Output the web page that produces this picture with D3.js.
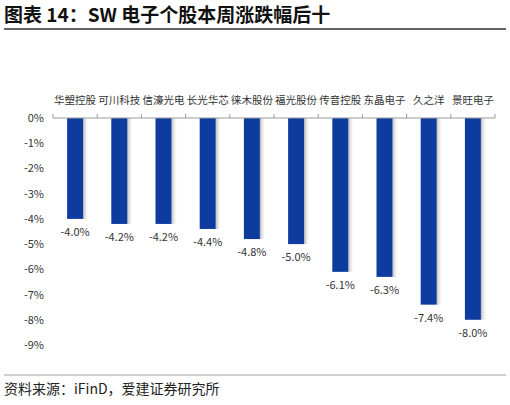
<!DOCTYPE html>
<html><head><meta charset="utf-8">
<script src="https://cdn.jsdelivr.net/npm/d3@7"></script>
<style>body{margin:0;background:#fff;font-family:"Noto Sans CJK SC","Noto Sans",sans-serif}</style>
</head><body><svg id="chart" width="510" height="405"></svg>
<script>
var names = ['华塑控股','可川科技','信濠光电','长光华芯','徕木股份','福光股份','传音控股','东晶电子','久之洋','景旺电子'];
var values = [-4.0,-4.2,-4.2,-4.4,-4.8,-5.0,-6.1,-6.3,-7.4,-8.0];
var yTicks = [0,-1,-2,-3,-4,-5,-6,-7,-8,-9];

var svg = d3.select('#chart');
var font = '"Noto Sans CJK SC",sans-serif';

svg.append('text').attr('x',4).attr('y',22)
	.attr('font-size',19).attr('font-weight','bold').attr('fill','#111').attr('font-family',font)
	.text('图表 14：SW 电子个股本周涨跌幅后十');
svg.append('line').attr('x1',4).attr('x2',506).attr('y1',29).attr('y2',29)
	.attr('stroke','#333').attr('stroke-width',1.5);

var x = d3.scaleBand().domain(names).range([53,495]);
var y = d3.scaleLinear().domain([0,-9]).range([118,345]);

var defs = svg.append('defs');
var g = defs.append('linearGradient').attr('id','shadow');
g.append('stop').attr('offset','0%').attr('stop-color','#888').attr('stop-opacity',0.6);
g.append('stop').attr('offset','100%').attr('stop-color','#fff').attr('stop-opacity',0);

var bw = 16;
svg.selectAll('rect.sh').data(values).enter().append('rect')
	.attr('x',function(d,i){return x(names[i])+x.bandwidth()/2+bw/2})
	.attr('y',y(0)).attr('width',6)
	.attr('height',function(d){return y(d)-y(0)})
	.attr('fill','url(#shadow)');
svg.selectAll('rect.bar').data(values).enter().append('rect')
	.attr('x',function(d,i){return x(names[i])+x.bandwidth()/2-bw/2})
	.attr('y',y(0)).attr('width',bw)
	.attr('height',function(d){return y(d)-y(0)})
	.attr('fill','#0d3b9e');

// y axis labels
svg.selectAll('text.yt').data(yTicks).enter().append('text')
	.attr('x',44).attr('y',function(d){return y(d)+4})
	.attr('text-anchor','end').attr('font-size',11).attr('fill','#333').attr('font-family',font)
	.text(function(d){return d+'%'});

// x axis line with ticks
svg.append('line').attr('x1',53).attr('x2',495).attr('y1',y(0)).attr('y2',y(0)).attr('stroke','#999');
svg.selectAll('line.xt').data(d3.range(names.length+1)).enter().append('line')
	.attr('x1',function(d){return 53+d*x.step()}).attr('x2',function(d){return 53+d*x.step()})
	.attr('y1',y(0)-4).attr('y2',y(0)).attr('stroke','#999');

svg.selectAll('text.cat').data(names).enter().append('text')
	.attr('x',function(d){return x(d)+x.bandwidth()/2}).attr('y',104)
	.attr('text-anchor','middle').attr('font-size',10.5).attr('fill','#333').attr('font-family',font)
	.text(function(d){return d});

svg.selectAll('text.val').data(values).enter().append('text')
	.attr('x',function(d,i){return x(names[i])+x.bandwidth()/2}).attr('y',function(d){return y(d)+17})
	.attr('text-anchor','middle').attr('font-size',11).attr('fill','#333').attr('font-family',font)
	.text(function(d){return d.toFixed(1)+'%'});

svg.append('line').attr('x1',4).attr('x2',506).attr('y1',375).attr('y2',375)
	.attr('stroke','#888').attr('stroke-width',0.8);
svg.append('text').attr('x',4).attr('y',394)
	.attr('font-size',14).attr('fill','#222').attr('font-family',font)
	.text('资料来源：iFinD，爱建证券研究所');
</script></body></html>
